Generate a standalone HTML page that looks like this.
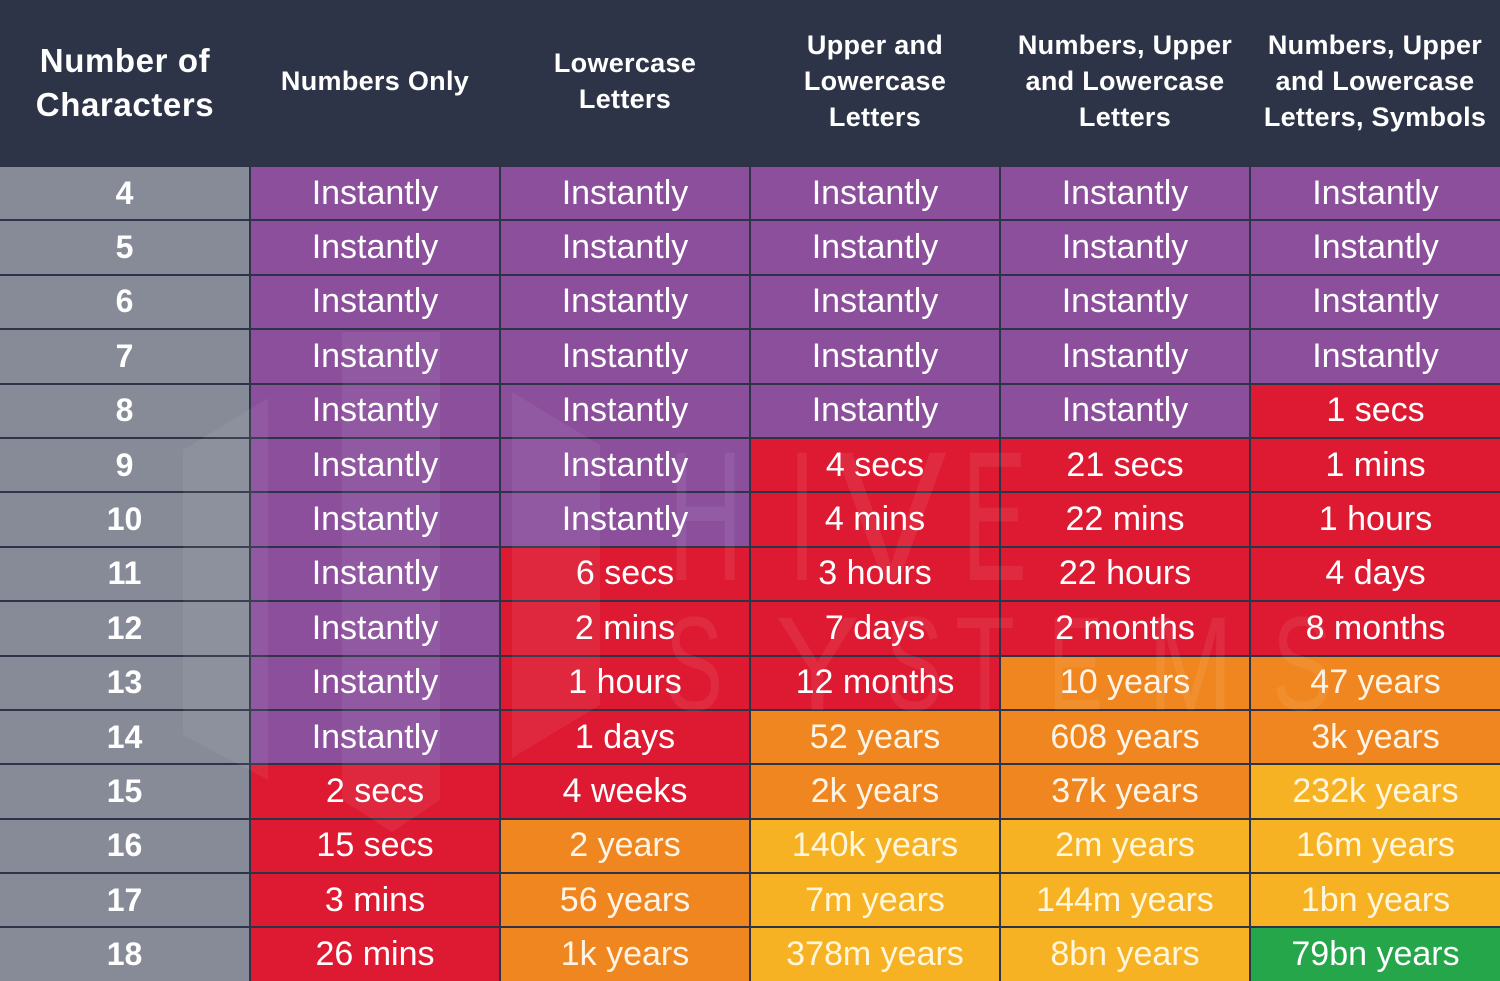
<!DOCTYPE html>
<html>
<head>
<meta charset="utf-8">
<style>
  html, body { margin:0; padding:0; }
  body { width:1500px; height:981px; overflow:hidden; background:#2e3447; position:relative;
         font-family:"Liberation Sans", Arial, sans-serif; }
  .hdr { position:absolute; top:0; left:0; width:1500px; height:166px; background:#2e3447; }
  .h { position:absolute; color:#fff; font-weight:bold; text-align:center; white-space:nowrap; }
  .h1 { left:0; width:250px; top:39px; font-size:33px; line-height:44px; letter-spacing:0.6px; }
  .hs { font-size:27px; line-height:36px; width:250px; letter-spacing:0.3px; }
  .grid { position:absolute; top:166px; left:0; width:1500px; height:815px; box-sizing:border-box; padding-top:1px;
          display:grid; grid-template-columns:249px 248px 248px 248px 248px 249px;
          grid-template-rows:repeat(15, 52.4px); column-gap:2px; row-gap:2px; background:#2e3447; }
  .grid div { display:flex; align-items:center; justify-content:center; color:#fff; font-size:34px; white-space:nowrap; }
  .grid .n { background:#868b97; font-weight:bold; font-size:32px; }
  .grid .p { background:#8b4f9c; }
  .grid .r { background:#dd1a32; }
  .grid .o { background:#f0861f; color:#fff4e6; }
  .grid .y { background:#f6b223; color:#fff6dc; }
  .grid .g { background:#25a64b; }
  svg.wm { position:absolute; left:0; top:0; pointer-events:none; }
</style>
</head>
<body>
<div class="hdr">
  <div class="h h1">Number of<br>Characters</div>
  <div class="h hs" style="left:250px; top:63px;">Numbers Only</div>
  <div class="h hs" style="left:500px; top:45px;">Lowercase<br>Letters</div>
  <div class="h hs" style="left:750px; top:27px;">Upper and<br>Lowercase<br>Letters</div>
  <div class="h hs" style="left:1000px; top:27px;">Numbers, Upper<br>and Lowercase<br>Letters</div>
  <div class="h hs" style="left:1250px; top:27px;">Numbers, Upper<br>and Lowercase<br>Letters, Symbols</div>
</div>
<div class="grid">
  <div class="n">4</div><div class="p">Instantly</div><div class="p">Instantly</div><div class="p">Instantly</div><div class="p">Instantly</div><div class="p">Instantly</div>
  <div class="n">5</div><div class="p">Instantly</div><div class="p">Instantly</div><div class="p">Instantly</div><div class="p">Instantly</div><div class="p">Instantly</div>
  <div class="n">6</div><div class="p">Instantly</div><div class="p">Instantly</div><div class="p">Instantly</div><div class="p">Instantly</div><div class="p">Instantly</div>
  <div class="n">7</div><div class="p">Instantly</div><div class="p">Instantly</div><div class="p">Instantly</div><div class="p">Instantly</div><div class="p">Instantly</div>
  <div class="n">8</div><div class="p">Instantly</div><div class="p">Instantly</div><div class="p">Instantly</div><div class="p">Instantly</div><div class="r">1 secs</div>
  <div class="n">9</div><div class="p">Instantly</div><div class="p">Instantly</div><div class="r">4 secs</div><div class="r">21 secs</div><div class="r">1 mins</div>
  <div class="n">10</div><div class="p">Instantly</div><div class="p">Instantly</div><div class="r">4 mins</div><div class="r">22 mins</div><div class="r">1 hours</div>
  <div class="n">11</div><div class="p">Instantly</div><div class="r">6 secs</div><div class="r">3 hours</div><div class="r">22 hours</div><div class="r">4 days</div>
  <div class="n">12</div><div class="p">Instantly</div><div class="r">2 mins</div><div class="r">7 days</div><div class="r">2 months</div><div class="r">8 months</div>
  <div class="n">13</div><div class="p">Instantly</div><div class="r">1 hours</div><div class="r">12 months</div><div class="o">10 years</div><div class="o">47 years</div>
  <div class="n">14</div><div class="p">Instantly</div><div class="r">1 days</div><div class="o">52 years</div><div class="o">608 years</div><div class="o">3k years</div>
  <div class="n">15</div><div class="r">2 secs</div><div class="r">4 weeks</div><div class="o">2k years</div><div class="o">37k years</div><div class="y">232k years</div>
  <div class="n">16</div><div class="r">15 secs</div><div class="o">2 years</div><div class="y">140k years</div><div class="y">2m years</div><div class="y">16m years</div>
  <div class="n">17</div><div class="r">3 mins</div><div class="o">56 years</div><div class="y">7m years</div><div class="y">144m years</div><div class="y">1bn years</div>
  <div class="n">18</div><div class="r">26 mins</div><div class="o">1k years</div><div class="y">378m years</div><div class="y">8bn years</div><div class="g">79bn years</div>
</div>
<svg class="wm" width="1500" height="981" viewBox="0 0 1500 981">
  <g fill="#ffffff" fill-opacity="0.06">
    <polygon points="183,450 268,398 268,780 183,735"/>
    <polygon points="342,332 440,332 440,800 392,832 342,800"/>
    <polygon points="512,392 600,445 600,705 512,758"/>
  </g>
  <g fill="#ffffff" fill-opacity="0.07" font-family="Liberation Sans, sans-serif">
    <text x="668" y="580" font-size="185" textLength="75" lengthAdjust="spacingAndGlyphs">H</text>
    <text x="788" y="580" font-size="185" textLength="28" lengthAdjust="spacingAndGlyphs">I</text>
    <text x="835" y="580" font-size="185" textLength="112" lengthAdjust="spacingAndGlyphs">V</text>
    <text x="962" y="580" font-size="185" textLength="65" lengthAdjust="spacingAndGlyphs">E</text>
    <text x="665" y="710" font-size="134" textLength="58" lengthAdjust="spacingAndGlyphs">S</text>
    <text x="775" y="710" font-size="134" textLength="85" lengthAdjust="spacingAndGlyphs">Y</text>
    <text x="885" y="710" font-size="134" textLength="58" lengthAdjust="spacingAndGlyphs">S</text>
    <text x="955" y="710" font-size="134" textLength="60" lengthAdjust="spacingAndGlyphs">T</text>
    <text x="1048" y="710" font-size="134" textLength="55" lengthAdjust="spacingAndGlyphs">E</text>
    <text x="1148" y="710" font-size="134" textLength="85" lengthAdjust="spacingAndGlyphs">M</text>
    <text x="1272" y="710" font-size="134" textLength="60" lengthAdjust="spacingAndGlyphs">S</text>
  </g>
</svg>
</body>
</html>
